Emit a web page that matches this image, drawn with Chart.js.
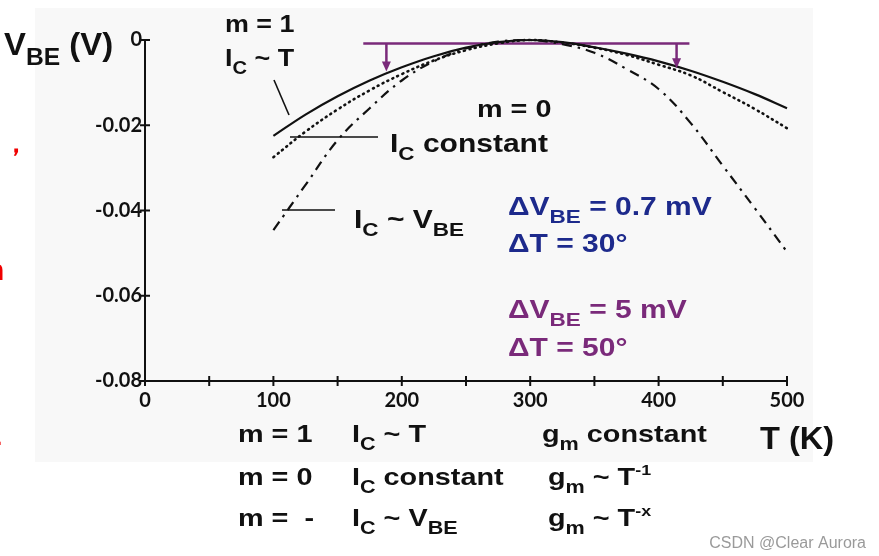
<!DOCTYPE html>
<html>
<head>
<meta charset="utf-8">
<script src="https://cdn.jsdelivr.net/npm/chart.js@4.4.1/dist/chart.umd.min.js"></script>
<style>
  html, body { margin: 0; padding: 0; background: #fff; }
  #wrap { position: relative; width: 879px; height: 556px; }
</style>
</head>
<body>
<div id="wrap"><canvas id="chart"></canvas></div>
<script>
// temperature samples (K)
const temps = [100, 125, 150, 175, 200, 225, 250, 275, 300, 325, 350, 375, 400, 425, 450, 475, 500]

// V_BE deviation (V)
const mOne = [-0.0225, -0.0175, -0.0132, -0.0095, -0.0064, -0.0038, -0.0018, -0.0005, 0, -0.0005, -0.0017, -0.0032, -0.0050, -0.0072, -0.0098, -0.0127, -0.0160]
const mZero = [-0.0275, -0.0215, -0.0163, -0.0118, -0.0080, -0.0048, -0.0024, -0.0008, 0, -0.0006, -0.0018, -0.0035, -0.0058, -0.0083, -0.0122, -0.0162, -0.0207]
const mMinus = [-0.0446, -0.0340, -0.0235, -0.0160, -0.0095, -0.0050, -0.0020, -0.0004, 0, -0.0010, -0.0030, -0.0068, -0.0115, -0.0195, -0.0295, -0.0395, -0.0497]

// purple bracket: flat line and the two arrows hanging from it
const bracketT = [170, 424]
const bracketV = [-0.0008, -0.0008]
const arrowT = [188, 414]
const arrowTipV = [-0.0074, -0.0066]

const yTicks = [0, -0.02, -0.04, -0.06, -0.08]
const xLabels = [0, 100, 200, 300, 400, 500]

const FONT = "'Liberation Sans', Arial, sans-serif"
const TICKFONT = "Lato, 'DejaVu Sans', sans-serif"

const toXY = (xs, ys) => xs.map((x, i) => ({ x: x, y: ys[i] }))

// draw text made of normal / sub / sup pieces, slightly stretched sideways like the scan
function rich(ctx, x, y, parts, size, color, stretch) {
  ctx.save()
  ctx.translate(x, y)
  ctx.scale(stretch || 1.2, 1)
  ctx.fillStyle = color
  ctx.textBaseline = "alphabetic"
  ctx.textAlign = "left"
  let cx = 0
  parts.forEach(([txt, kind]) => {
    let s = size, dy = 0
    if (kind === "sub") { s = size * 0.75; dy = size * 0.32 }
    if (kind === "sup") { s = size * 0.62; dy = -size * 0.42 }
    ctx.font = "bold " + s + "px " + FONT
    ctx.fillText(txt, cx, dy)
    cx += ctx.measureText(txt).width
  })
  ctx.restore()
}

function line(ctx, x1, y1, x2, y2, w, c) {
  ctx.save()
  ctx.strokeStyle = c || "#111"
  ctx.lineWidth = w || 1.6
  ctx.beginPath()
  ctx.moveTo(x1, y1)
  ctx.lineTo(x2, y2)
  ctx.stroke()
  ctx.restore()
}

const backdrop = {
  id: "backdrop",
  beforeDraw(chart) {
    const ctx = chart.ctx
    ctx.save()
    ctx.fillStyle = "#ffffff"
    ctx.fillRect(0, 0, chart.width, chart.height)
    ctx.fillStyle = "#f8f8f8"
    ctx.fillRect(35, 8, 778, 454)
    ctx.restore()
  }
}

const decorations = {
  id: "decorations",
  afterDraw(chart) {
    const ctx = chart.ctx
    const xs = chart.scales.x, ys = chart.scales.y
    const ax = xs.left, ay = ys.bottom

    // crossing tick marks
    for (let t = 0; t <= 500; t += 50) {
      const px = xs.getPixelForValue(t)
      line(ctx, px, ay - 5, px, ay + 5, 2)
    }
    yTicks.forEach(v => {
      const py = ys.getPixelForValue(v)
      line(ctx, ax - 5, py, ax + 5, py, 2)
    })

    // bracket arrows
    const purple = "#7a2a7a"
    arrowT.forEach((t, i) => {
      const px = xs.getPixelForValue(t)
      const top = ys.getPixelForValue(bracketV[0])
      const tip = ys.getPixelForValue(arrowTipV[i])
      line(ctx, px, top, px, tip - 8, 2.5, purple)
      ctx.save()
      ctx.fillStyle = purple
      ctx.beginPath()
      ctx.moveTo(px - 4.5, tip - 10)
      ctx.lineTo(px + 4.5, tip - 10)
      ctx.lineTo(px, tip)
      ctx.closePath()
      ctx.fill()
      ctx.restore()
    })

    const k = "#111"
    // axis titles
    rich(ctx, 4, 55, [["V", ""], ["BE", "sub"], [" (V)", ""]], 31, k, 1.06)
    rich(ctx, 760, 449, [["T (K)", ""]], 31, k, 1.05)

    // curve labels
    rich(ctx, 225, 32, [["m = 1", ""]], 24, k, 1.12)
    rich(ctx, 225, 66, [["I", ""], ["C", "sub"], [" ~ T", ""]], 24, k, 1.12)
    line(ctx, 274, 80, 289, 115)
    rich(ctx, 477, 117, [["m = 0", ""]], 24, k)
    rich(ctx, 390, 152, [["I", ""], ["C", "sub"], [" constant", ""]], 25, k)
    line(ctx, 290, 137, 378, 137)
    rich(ctx, 354, 228, [["I", ""], ["C", "sub"], [" ~ V", ""], ["BE", "sub"]], 25, k)
    line(ctx, 282, 210, 335, 210)

    // delta annotations
    const blue = "#1d2a8c"
    rich(ctx, 508, 215, [["\u0394V", ""], ["BE", "sub"], [" = 0.7 mV", ""]], 25, blue)
    rich(ctx, 508, 252, [["\u0394T = 30\u00b0", ""]], 25, blue)
    rich(ctx, 508, 318, [["\u0394V", ""], ["BE", "sub"], [" = 5 mV", ""]], 25, purple)
    rich(ctx, 508, 356, [["\u0394T = 50\u00b0", ""]], 25, purple)

    // bottom table
    rich(ctx, 238, 442, [["m = 1", ""]], 24, k)
    rich(ctx, 352, 442, [["I", ""], ["C", "sub"], [" ~ T", ""]], 24, k)
    rich(ctx, 542, 442, [["g", ""], ["m", "sub"], [" constant", ""]], 24, k)
    rich(ctx, 238, 485, [["m = 0", ""]], 24, k)
    rich(ctx, 352, 485, [["I", ""], ["C", "sub"], [" constant", ""]], 24, k)
    rich(ctx, 548, 485, [["g", ""], ["m", "sub"], [" ~ T", ""], ["-1", "sup"]], 24, k)
    rich(ctx, 238, 526, [["m =  -", ""]], 24, k)
    rich(ctx, 352, 526, [["I", ""], ["C", "sub"], [" ~ V", ""], ["BE", "sub"]], 24, k)
    rich(ctx, 548, 526, [["g", ""], ["m", "sub"], [" ~ T", ""], ["-x", "sup"]], 24, k)

    // cut-off red text on the left edge
    rich(ctx, 3, 152, [["\uff0c", ""]], 26, "#f00000", 1)
    rich(ctx, -14, 280, [["n", ""]], 30, "#f00000", 1)
    rich(ctx, -4, 445, [[".", ""]], 22, "#f00000", 1)

    // watermark
    ctx.save()
    ctx.fillStyle = "#9a9a9a"
    ctx.font = "16px " + FONT
    ctx.textAlign = "right"
    ctx.textBaseline = "alphabetic"
    ctx.fillText("CSDN @Clear Aurora", 866, 548)
    ctx.restore()
  }
}

new Chart(document.getElementById("chart"), {
  type: "line",
  data: {
    datasets: [
      {
        label: "m = 1",
        data: toXY(temps, mOne),
        borderColor: "#111",
        borderWidth: 2.2,
        tension: 0.4,
        pointRadius: 0,
        clip: 10
      },
      {
        label: "m = 0",
        data: toXY(temps, mZero),
        borderColor: "#111",
        borderWidth: 2.6,
        borderDash: [1, 4.5],
        borderCapStyle: "round",
        tension: 0.4,
        pointRadius: 0,
        clip: 10
      },
      {
        label: "m = -",
        data: toXY(temps, mMinus),
        borderColor: "#111",
        borderWidth: 2.2,
        borderDash: [10, 6, 2.5, 6],
        tension: 0.4,
        pointRadius: 0,
        clip: 10
      },
      {
        label: "bracket",
        data: toXY(bracketT, bracketV),
        borderColor: "#7a2a7a",
        borderWidth: 2.5,
        pointRadius: 0,
        clip: 10
      }
    ]
  },
  options: {
    responsive: true,
    maintainAspectRatio: false,
    animation: false,
    layout: { padding: { top: 40, right: 92, left: 0, bottom: 0 } },
    plugins: {
      legend: { display: false },
      tooltip: { enabled: false }
    },
    scales: {
      x: {
        type: "linear",
        min: 0,
        max: 500,
        afterFit: s => { s.height = 175 },
        afterBuildTicks: s => { s.ticks = xLabels.map(v => ({ value: v })) },
        grid: { display: false, drawTicks: false },
        border: { display: true, color: "#111", width: 2 },
        ticks: {
          autoSkip: false,
          maxRotation: 0,
          padding: 8,
          color: "#111",
          font: { family: TICKFONT, size: 20, weight: "bold" }
        }
      },
      y: {
        type: "linear",
        min: -0.08,
        max: 0,
        afterFit: s => { s.width = 145 },
        afterBuildTicks: s => { s.ticks = yTicks.map(v => ({ value: v })) },
        grid: { display: false, drawTicks: false },
        border: { display: true, color: "#111", width: 2 },
        ticks: {
          padding: 3,
          color: "#111",
          font: { family: TICKFONT, size: 20, weight: "bold" },
          callback: v => (v === 0 ? "0" : v.toFixed(2))
        }
      }
    }
  },
  plugins: [backdrop, decorations]
})
</script>
</body>
</html>
